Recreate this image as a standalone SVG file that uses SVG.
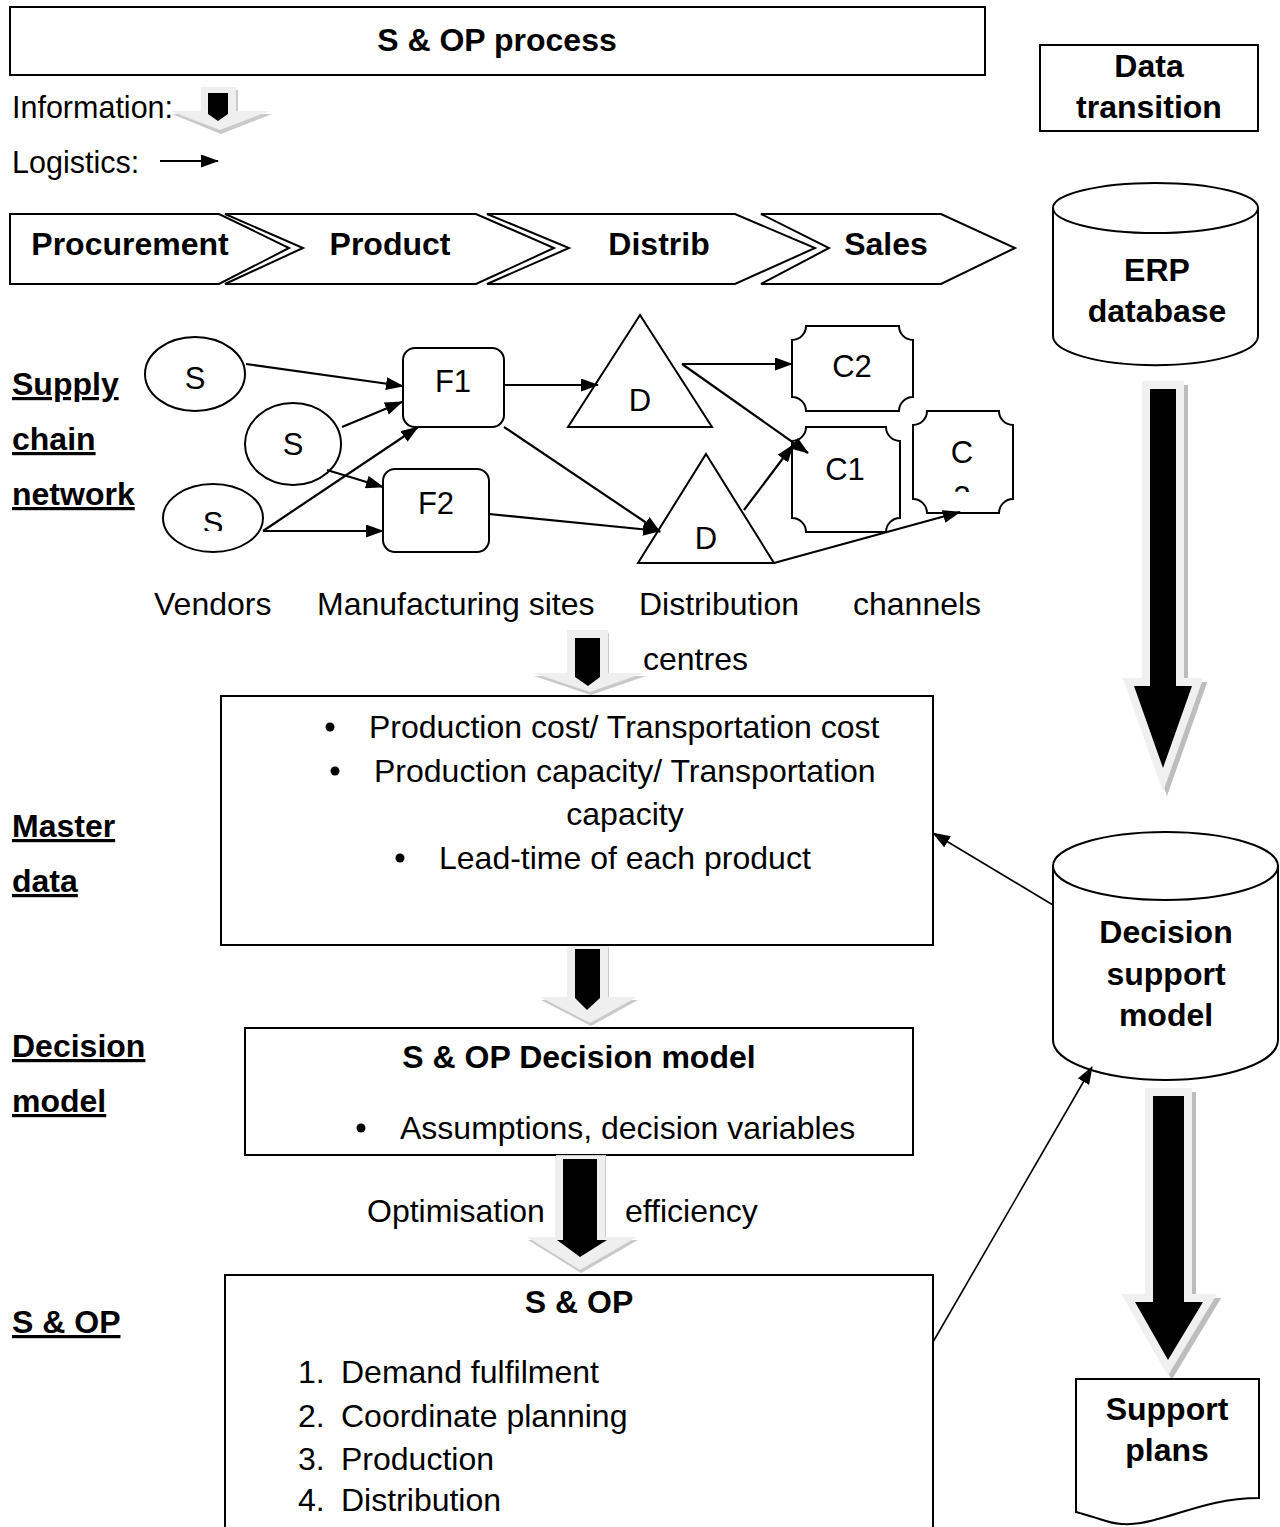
<svg xmlns="http://www.w3.org/2000/svg" width="1280" height="1527" viewBox="0 0 1280 1527">
  <style>
    .t { font-family: "Liberation Sans", Arial, sans-serif; font-size: 32px; fill: #000; }
    .b { font-weight: bold; }
    .u { text-decoration: underline; }
    .m { text-anchor: middle; }
    .box { fill: #fff; stroke: #000; stroke-width: 2; }
    .shape { fill: #fff; stroke: #000; stroke-width: 2; }
    .conn { fill: none; stroke: #000; stroke-width: 2.2; marker-end: url(#ah); }
    .thin { fill: none; stroke: #000; stroke-width: 1.6; marker-end: url(#ah); }
    .infoLight { fill: #efefef; }
    .infoShade { fill: #c9c9c9; }
    .bigOutline { fill: #000; stroke: #f0f0f0; stroke-width: 16; stroke-linejoin: miter; stroke-miterlimit: 5; paint-order: stroke; }
    .bigShadow { fill: #bdbdbd; stroke: #bdbdbd; stroke-width: 16; stroke-linejoin: miter; stroke-miterlimit: 5; }
  </style>
  <defs>
    <marker id="ah" viewBox="0 0 18 13" refX="17" refY="6.5" markerWidth="18" markerHeight="13" markerUnits="userSpaceOnUse" orient="auto">
      <path d="M0,0 L18,6.5 L0,13 Z" fill="#000"/>
    </marker>
    <clipPath id="clipS3"><rect x="150" y="490" width="130" height="41"/></clipPath>
    <clipPath id="clipC3"><rect x="913" y="420" width="100" height="72"/></clipPath>
  </defs>

  <rect width="1280" height="1527" fill="#fff"/>

  <!-- header -->
  <g id="title">
    <rect class="box" x="10" y="7" width="975" height="68"/>
    <text class="t b m" x="497" y="51">S &amp; OP process</text>
  </g>
  <g id="data-transition">
    <rect class="box" x="1040" y="45" width="218" height="86"/>
    <text class="t b m" x="1149" y="77">Data</text>
    <text class="t b m" x="1149" y="118">transition</text>
  </g>

  <!-- legend -->
  <g id="legend">
    <text class="t" x="12" y="118" style="font-size:30.5px">Information:</text>
    <g id="legend-info-arrow">
      <polygon class="infoShade" points="202,90 238,90 238,114 272,114 221,134 172,114 202,114"/>
      <polygon class="infoLight" points="201,87 236,87 236,111 270,111 220,130 170,111 201,111"/>
      <polygon fill="#000" points="208,93 228,93 228,114 218,121 208,114"/>
    </g>
    <text class="t" x="12" y="173" style="font-size:30.5px">Logistics:</text>
    <path class="conn" d="M160,161 L218,161"/>
  </g>

  <!-- value chain stages -->
  <g id="stage-procurement">
    <polygon class="shape" points="10,214 219,214 289,248 219,284 10,284"/>
    <text class="t b m" x="130" y="255">Procurement</text>
  </g>
  <g id="stage-product">
    <polygon class="shape" points="225,214 476,214 554,248 476,284 225,284 303,248"/>
    <text class="t b m" x="390" y="255">Product</text>
  </g>
  <g id="stage-distrib">
    <polygon class="shape" points="487,214 735,214 815,248 735,284 487,284 569,248"/>
    <text class="t b m" x="659" y="255">Distrib</text>
  </g>
  <g id="stage-sales">
    <polygon class="shape" points="761,214 941,214 1015,248 941,284 761,284 829,248"/>
    <text class="t b m" x="886" y="255">Sales</text>
  </g>

  <!-- ERP database -->
  <g id="erp-database">
    <path class="shape" d="M1053,208 L1053,336 A102,29 0 0 0 1258,336 L1258,208"/>
    <ellipse class="shape" cx="1155.5" cy="208" rx="102.5" ry="25"/>
    <text class="t b m" x="1157" y="281">ERP</text>
    <text class="t b m" x="1157" y="322">database</text>
  </g>

  <!-- row labels -->
  <g id="row-labels">
    <text class="t b u" x="12" y="395">Supply</text>
    <text class="t b u" x="12" y="450">chain</text>
    <text class="t b u" x="12" y="505">network</text>
    <text class="t b u" x="12" y="837">Master</text>
    <text class="t b u" x="12" y="892">data</text>
    <text class="t b u" x="12" y="1057">Decision</text>
    <text class="t b u" x="12" y="1112">model</text>
    <text class="t b u" x="12" y="1333">S &amp; OP</text>
  </g>

  <!-- supply chain network nodes -->
  <g id="vendor-1">
    <ellipse class="shape" cx="195" cy="374" rx="50" ry="37"/>
    <text class="t m" x="195" y="389" style="font-size:31px">S</text>
  </g>
  <g id="vendor-2">
    <ellipse class="shape" cx="293" cy="444" rx="48" ry="41"/>
    <text class="t m" x="293" y="455" style="font-size:31px">S</text>
  </g>
  <g id="vendor-3">
    <ellipse class="shape" cx="213" cy="518" rx="50" ry="34"/>
    <text class="t m" x="213" y="534" clip-path="url(#clipS3)" style="font-size:31px">S</text>
  </g>
  <g id="factory-1">
    <rect class="shape" x="403" y="348" width="101" height="79" rx="12"/>
    <text class="t m" x="453" y="392" style="font-size:31px">F1</text>
  </g>
  <g id="factory-2">
    <rect class="shape" x="383" y="469" width="106" height="83" rx="12"/>
    <text class="t m" x="436" y="514" style="font-size:31px">F2</text>
  </g>
  <g id="dc-1">
    <polygon class="shape" points="640,315 712,427 568,427"/>
    <text class="t m" x="640" y="411" style="font-size:31px">D</text>
  </g>
  <g id="dc-2">
    <polygon class="shape" points="706,454 774,563 638,563"/>
    <text class="t m" x="706" y="549" style="font-size:31px">D</text>
  </g>
  <g id="channel-2">
    <path class="shape" d="M806,326 L899,326 A14,14 0 0 0 913,340 L913,397 A14,14 0 0 0 899,411 L806,411 A14,14 0 0 0 792,397 L792,340 A14,14 0 0 0 806,326 Z"/>
    <text class="t m" x="852" y="377" style="font-size:31px">C2</text>
  </g>
  <g id="channel-1">
    <path class="shape" d="M806,427 L886,427 A14,14 0 0 0 900,441 L900,518 A14,14 0 0 0 886,532 L806,532 A14,14 0 0 0 792,518 L792,441 A14,14 0 0 0 806,427 Z"/>
    <text class="t m" x="845" y="480" style="font-size:31px">C1</text>
  </g>
  <g id="channel-3">
    <path class="shape" d="M927,411 L999,411 A14,14 0 0 0 1013,425 L1013,499 A14,14 0 0 0 999,513 L927,513 A14,14 0 0 0 913,499 L913,425 A14,14 0 0 0 927,411 Z"/>
    <g clip-path="url(#clipC3)">
      <text class="t m" x="962" y="463" style="font-size:31px">C</text>
      <text class="t m" x="962" y="508" style="font-size:31px">3</text>
    </g>
  </g>

  <!-- logistics connectors -->
  <g id="logistics-connectors">
    <path class="conn" d="M246,364 L403,386"/>
    <path class="conn" d="M342,427 L402,402"/>
    <path class="conn" d="M327,470 L383,487"/>
    <path class="conn" d="M263,531 L418,427"/>
    <path class="conn" d="M263,531 L383,531"/>
    <path class="conn" d="M504,385 L598,385"/>
    <path class="conn" d="M504,427 L660,532"/>
    <path class="conn" d="M489,514 L660,531"/>
    <path class="conn" d="M682,364 L792,364"/>
    <path class="conn" d="M682,364 L808,453"/>
    <path class="conn" d="M744,510 L793,445"/>
    <path class="conn" d="M774,563 L960,512"/>
  </g>

  <!-- network captions -->
  <g id="network-captions">
    <text class="t" x="154" y="615">Vendors</text>
    <text class="t" x="317" y="615">Manufacturing sites</text>
    <text class="t" x="639" y="615">Distribution</text>
    <text class="t" x="853" y="615">channels</text>
    <text class="t" x="643" y="670">centres</text>
  </g>

  <!-- information flow arrows -->
  <g id="info-arrow-network">
    <polygon class="infoShade" points="568,633 609,633 609,676 646,676 591,695 534,676 568,676"/>
    <polygon class="infoLight" points="567,630 608,630 608,673 644,673 590,692 533,673 567,673"/>
    <polygon fill="#000" points="575,638 600,638 600,677 588,686 575,677"/>
  </g>

  <!-- master data -->
  <g id="master-data">
    <rect class="box" x="221" y="696" width="712" height="249"/>
    <circle cx="330" cy="727" r="4.5"/>
    <text class="t" x="369" y="738">Production cost/ Transportation cost</text>
    <circle cx="335" cy="771" r="4.5"/>
    <text class="t" x="374" y="782">Production capacity/ Transportation</text>
    <text class="t m" x="625" y="825">capacity</text>
    <circle cx="400" cy="858" r="4.5"/>
    <text class="t" x="439" y="869">Lead-time of each product</text>
  </g>

  <g id="info-arrow-master">
    <polygon class="infoShade" points="568,947 609,947 609,1000 638,1000 591,1026 541,1000 568,1000"/>
    <polygon class="infoLight" points="567,946 608,946 608,997 637,997 590,1023 540,997 567,997"/>
    <polygon fill="#000" points="575,949 600,949 600,998 587,1010 575,998"/>
  </g>

  <!-- decision model -->
  <g id="decision-model">
    <rect class="box" x="245" y="1028" width="668" height="127"/>
    <text class="t b m" x="579" y="1068">S &amp; OP Decision model</text>
    <circle cx="361" cy="1128" r="4.5"/>
    <text class="t" x="400" y="1139">Assumptions, decision variables</text>
  </g>

  <g id="info-arrow-decision">
    <polygon class="infoShade" points="556,1155 606,1155 606,1240 638,1240 581,1273 528,1240 556,1240"/>
    <polygon class="infoLight" points="555,1156 605,1156 605,1237 637,1237 580,1270 527,1237 555,1237"/>
    <polygon fill="#000" points="563,1159 597,1159 597,1240 607,1240 580,1257 557,1240 563,1240"/>
  </g>
  <text class="t" x="367" y="1222">Optimisation</text>
  <text class="t" x="625" y="1222">efficiency</text>

  <!-- S & OP -->
  <g id="sop">
    <rect class="box" x="225" y="1275" width="708" height="260"/>
    <text class="t b m" x="579" y="1313">S &amp; OP</text>
    <text class="t" x="298" y="1383">1.</text>
    <text class="t" x="341" y="1383">Demand fulfilment</text>
    <text class="t" x="298" y="1427">2.</text>
    <text class="t" x="341" y="1427">Coordinate planning</text>
    <text class="t" x="298" y="1470">3.</text>
    <text class="t" x="341" y="1470">Production</text>
    <text class="t" x="298" y="1511">4.</text>
    <text class="t" x="341" y="1511">Distribution</text>
  </g>

  <!-- data transition arrows -->
  <g id="erp-to-dsm-arrow">
    <path class="bigShadow" transform="translate(4,4)" d="M1150,389 H1176 V686 H1192 L1163,768 L1134,686 H1150 Z"/>
    <path class="bigOutline" d="M1150,389 H1176 V686 H1192 L1163,768 L1134,686 H1150 Z"/>
  </g>

  <!-- decision support model -->
  <g id="decision-support-model">
    <path class="shape" d="M1053,866 L1053,1040 A112.5,40 0 0 0 1278,1040 L1278,866"/>
    <ellipse class="shape" cx="1165.5" cy="866" rx="112.5" ry="34"/>
    <text class="t b m" x="1166" y="943">Decision</text>
    <text class="t b m" x="1166" y="985">support</text>
    <text class="t b m" x="1166" y="1026">model</text>
  </g>

  <g id="dsm-to-plans-arrow">
    <path class="bigShadow" transform="translate(4,4)" d="M1153,1096 H1184 V1302 H1203 L1168,1360 L1135,1302 H1153 Z"/>
    <path class="bigOutline" d="M1153,1096 H1184 V1302 H1203 L1168,1360 L1135,1302 H1153 Z"/>
  </g>

  <!-- support plans document -->
  <g id="support-plans">
    <path class="shape" d="M1076,1379 L1259,1379 L1259,1498 C1190,1498 1150,1535 1106,1521 C1090,1516 1080,1513 1076,1512 Z"/>
    <text class="t b m" x="1167" y="1420">Support</text>
    <text class="t b m" x="1167" y="1461">plans</text>
  </g>

  <!-- model feedback connectors -->
  <g id="model-connectors">
    <path class="thin" d="M1053,905 L933,833"/>
    <path class="thin" d="M933,1342 L1092,1067"/>
  </g>
</svg>
